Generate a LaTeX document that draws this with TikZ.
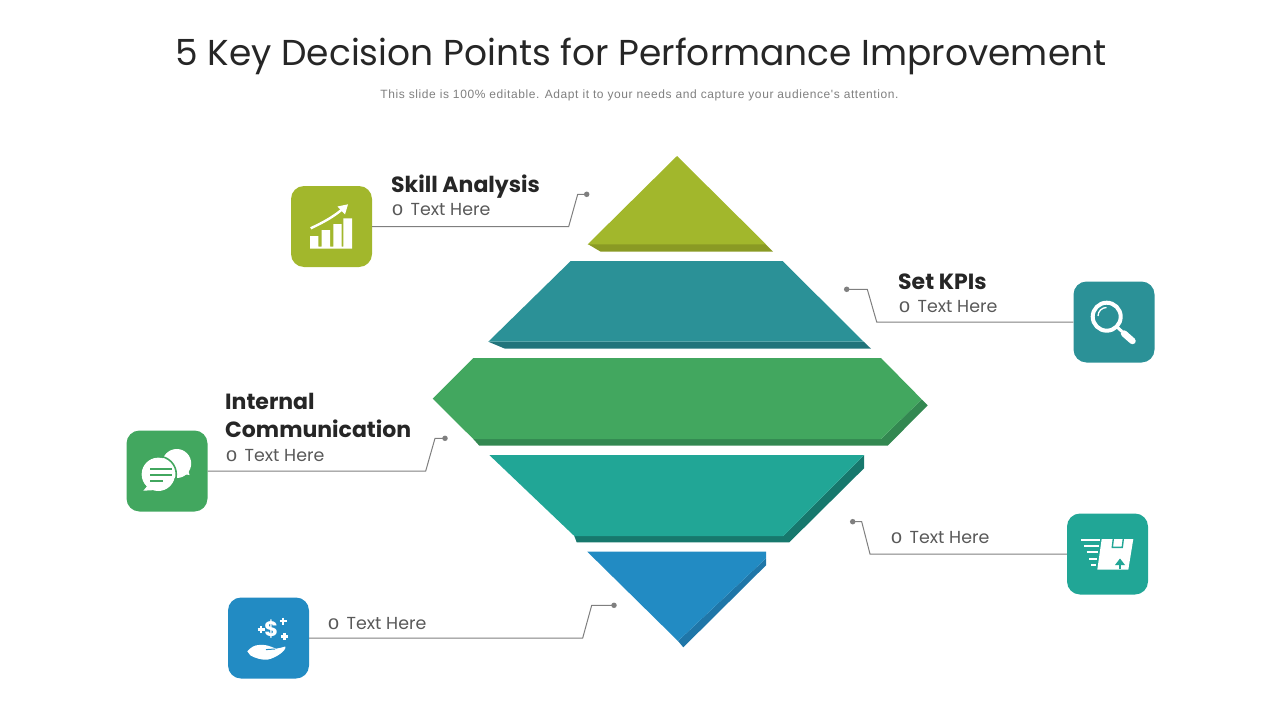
\documentclass[tikz,border=0pt]{standalone}
\usepackage{fontspec}
\setmainfont{Poppins}
\newfontfamily\subfont[LetterSpace=5]{Liberation Sans}
\newfontfamily\bulletfont{Liberation Mono}
\usetikzlibrary{arrows.meta}
\definecolor{olive}{HTML}{A2B72C}\definecolor{oliveD}{HTML}{8A9A24}
\definecolor{tealA}{HTML}{2B9197}\definecolor{tealAD}{HTML}{21747B}
\definecolor{greenA}{HTML}{42A75F}\definecolor{greenAD}{HTML}{338851}
\definecolor{tealB}{HTML}{21A696}\definecolor{tealBD}{HTML}{17786D}
\definecolor{blueA}{HTML}{228BC3}\definecolor{blueAD}{HTML}{1F76A8}
\definecolor{titlecol}{HTML}{262626}\definecolor{bodycol}{HTML}{595959}
\definecolor{linecol}{HTML}{7F7F7F}
\tikzset{
 x=1pt,y=-1pt,
 tile/.style={minimum size=81pt,inner sep=0pt,rounded corners=13pt,fill=#1},
 dotn/.style={circle,fill=linecol,minimum size=5.5pt,inner sep=0pt},
 conn/.style={draw=linecol,line width=1pt},
 head/.style={anchor=base west,inner sep=0pt,text=titlecol,font=\bfseries\fontsize{22}{22}\selectfont},
 body/.style={anchor=base west,inner sep=0pt,text=bodycol,font=\fontsize{17.4}{18}\selectfont},
 ico/.style={fill=white,draw=none},
}
\newcommand{\itemtext}{\makebox[10pt][l]{\bulletfont\fontsize{20}{18}\selectfont o}\hspace{9pt}Text Here}
\begin{document}
\begin{tikzpicture}
\useasboundingbox (0,0) rectangle (1280,720);
% title
\node[anchor=base,inner sep=0pt,text=titlecol,font=\fontsize{36}{36}\selectfont] (title) at (641,65.5) {5 Key Decision Points for Performance Improvement};
\node[inner sep=0pt,text=linecol,font=\subfont\fontsize{12}{12}\selectfont] (sub) at (639.5,95.5) {This slide is 100\% editable. Adapt it to your needs and capture your audience's attention.};
% diamond layers
\fill[oliveD] (587.7,244)--(600.7,251.7)--(773,251.7)--(765.5,244)--cycle;
\fill[olive] (677,156)--(587.7,244.3)--(766,244.3)--cycle;
\fill[tealAD] (488.3,341.7)--(505,348.7)--(871,348.7)--(863.5,341.5)--cycle;
\fill[tealA] (570.7,261)--(782.7,261)--(863.5,341.7)--(488.3,341.7)--cycle;
\fill[greenAD] (473.3,439)--(479.3,445.7)--(887.7,445.7)--(927.7,405.3)--(921.7,399.3)--(881,439)--cycle;
\fill[greenA] (473.3,358)--(881,358)--(921.7,399.3)--(881,439)--(473.3,439)--(432.7,398.7)--cycle;
\fill[tealBD] (864,455)--(864,468.3)--(789.3,542.3)--(576.7,542.3)--(574.3,536)--(783.3,536)--cycle;
\fill[tealB] (489.3,455)--(864,455)--(783.3,536)--(574.3,536)--cycle;
\fill[blueAD] (766,558.3)--(766,565.3)--(683.3,647.3)--(678,641)--cycle;
\fill[blueA] (587.3,551.7)--(766,551.7)--(766,558.3)--(678,641)--cycle;
% tiles
\node[tile=olive] (t1) at (331.5,226.5) {};
\node[tile=tealA] (t2) at (1114,322) {};
\node[tile=greenA] (t3) at (167,471) {};
\node[tile=tealB] (t4) at (1107.5,554) {};
\node[tile=blueA] (t5) at (268.5,638) {};
% dots
\node[dotn] (d1) at (586.7,194.3) {};
\node[dotn] (d2) at (846.7,289.3) {};
\node[dotn] (d3) at (445,438.3) {};
\node[dotn] (d4) at (852.7,521.7) {};
\node[dotn] (d5) at (614,605.3) {};
% connectors
\draw[conn] (t1.east) -- (568.7,226.5) -- (577.7,194.3) -- (d1.center);
\draw[conn] (t2.west) -- (876.7,322) -- (867.3,289.3) -- (d2.center);
\draw[conn] (t3.east) -- (425.7,471) -- (435,438.3) -- (d3.center);
\draw[conn] (t4.west) -- (870,554) -- (861.7,521.7) -- (d4.center);
\draw[conn] (t5.east) -- (582.7,638) -- (591.7,605.3) -- (d5.center);
% labels
\node[head] (h1) at (391,192) {Skill Analysis};
\node[body] (b1) at (391.5,215) {\itemtext};
\node[head] (h2) at (898,289) {Set KPIs};
\node[body] (b2) at (898.5,312) {\itemtext};
\node[head] (h3a) at (225,409) {Internal};
\node[head] (h3b) at (225,437) {Communication};
\node[body] (b3) at (225.5,461) {\itemtext};
\node[body] (b4) at (890.5,543) {\itemtext};
\node[body] (b5) at (327.5,629) {\itemtext};
% icon 1: chart
\fill[ico] (310,236)--(318.3,236)--(318.3,246.5)--(321.7,246.5)--(321.7,230)--(330,230)--(330,246.5)--(333.3,246.5)--(333.3,224)--(341.7,224)--(341.7,246.5)--(343.3,246.5)--(343.3,218.3)--(352,218.3)--(352,248.7)--(310,248.7)--cycle;
\draw[white,line width=2.4pt] (310.7,228.3) .. controls (324,222) and (333,217) .. (342,209.5);
\fill[ico] (348,204.3)--(337.5,206.5)--(345,214.5)--cycle;
% icon 2: magnifier
\draw[white,line width=4pt] (1106.7,316.7) circle (14);
\draw[white,line width=1.3pt] (1098,316) arc (180:270:8.5);
\draw[white,line width=3pt] (1117,327) -- (1122,331.5);
\draw[white,line width=6.5pt,line cap=round] (1124,333.5) -- (1132.5,341);
% icon 3: chat
\fill[ico] (176.7,463.5) circle (14.5);
\fill[ico] (183,474)--(189.5,475)--(187,466)--cycle;
\fill[ico] (158.3,474.3) circle (16.7);
\draw[greenA,line width=1.6pt] (158.3,474.3) circle (18);
\fill[ico] (149,484)--(143.3,490.7)--(156,490)--cycle;
\draw[greenA,line width=2.2pt] (150,469.3)--(172.3,469.3) (150,475)--(172.3,475) (150,480.7)--(162.7,480.7);
% icon 4: package
\fill[ico] (1101.7,539)--(1133.3,539)--(1128.3,569.7)--(1097.3,569.7)--cycle;
\draw[tealB,line width=1.4pt] (1113.3,539)--(1112.3,547.3)--(1122.3,547.3)--(1123.3,539);
\draw[white,line width=2pt] (1081,540.3)--(1100,540.3) (1084,546.3)--(1099,546.3) (1086.7,552.3)--(1097.7,552.3) (1089,558.7)--(1096.7,558.7) (1091,565.3)--(1095.7,565.3);
\draw[tealB,line width=1.6pt] (1120,569)--(1120,562.5);
\fill[tealB] (1120,558.5)--(1115,565)--(1125,565)--cycle;
% icon 5: hand and coin
\node[inner sep=0pt,text=white,font=\bfseries\fontsize{21}{21}\selectfont] (dollar) at (271.3,628.7) {\$};
\draw[white,line width=2.6pt]
 (257.5,629.3)--(264.5,629.3) (261,625.8)--(261,632.8)
 (279.5,621)--(286.5,621) (283,617.5)--(283,624.5)
 (281,636.3)--(288,636.3) (284.5,632.8)--(284.5,639.8);
\fill[ico] (247.3,651.3) .. controls (251,647) and (255,645) .. (259,645) .. controls (264,644) and (270,646) .. (276,648.7) .. controls (279,648.5) and (282,647.3) .. (285.3,646.5) .. controls (287,650) and (276,658) .. (268,659.5) .. controls (262,660.5) and (255,658) .. (250.3,655.3) -- cycle;
\draw[blueA,line width=1pt] (266,649.6) -- (275,649);
\end{tikzpicture}
\end{document}
